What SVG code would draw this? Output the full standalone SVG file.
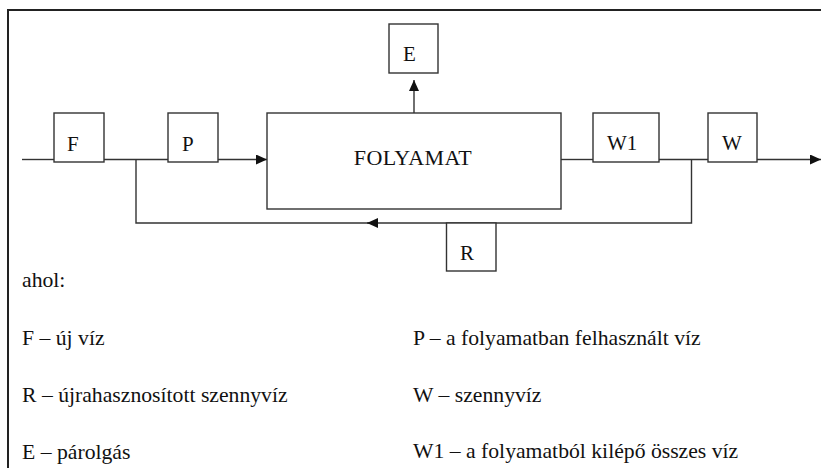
<svg xmlns="http://www.w3.org/2000/svg" width="821" height="468" viewBox="0 0 821 468">
<style>
.box{fill:#fff;stroke:#333;stroke-width:1.4}
.ln{fill:none;stroke:#333;stroke-width:1.4}
.t{font-family:"Liberation Serif","Times New Roman",serif;font-size:21px;fill:#111}
.lg{font-size:21.7px}
</style>
<defs>
<marker id="ah" markerWidth="11" markerHeight="10" refX="11" refY="5" orient="auto" markerUnits="userSpaceOnUse">
<path d="M0,0 L11,5 L0,10 Z" fill="#111"/>
</marker>
</defs>
<rect x="0" y="0" width="821" height="468" fill="#fff"/>
<rect x="8" y="10" width="830" height="480" fill="none" stroke="#222" stroke-width="2"/>
<g id="connectors">
<line class="ln" x1="22" y1="159.5" x2="54" y2="159.5"/>
<line class="ln" x1="104" y1="159.5" x2="168" y2="159.5"/>
<line class="ln" x1="218" y1="159.5" x2="267" y2="159.5" marker-end="url(#ah)"/>
<line class="ln" x1="414" y1="113" x2="414" y2="80" marker-end="url(#ah)"/>
<line class="ln" x1="561" y1="159.5" x2="593" y2="159.5"/>
<line class="ln" x1="659" y1="159.5" x2="708" y2="159.5"/>
<line class="ln" x1="757" y1="159.5" x2="821" y2="159.5" marker-end="url(#ah)"/>
<polyline class="ln" points="691.5,159.5 691.5,223 367,223"/>
<line class="ln" x1="378" y1="223" x2="367" y2="223" marker-end="url(#ah)"/>
<polyline class="ln" points="367,223 136,223 136,159.5"/>
</g>
<g id="node-F"><rect class="box" x="54" y="113" width="50" height="49"/><text class="t" x="67" y="151">F</text></g>
<g id="node-P"><rect class="box" x="168" y="113" width="50" height="49"/><text class="t" x="182" y="151">P</text></g>
<g id="node-FOLYAMAT"><rect class="box" x="267" y="113" width="294" height="96"/><text class="t" x="413" y="165" text-anchor="middle" style="font-size:22px;letter-spacing:0.4px">FOLYAMAT</text></g>
<g id="node-E"><rect class="box" x="389" y="24" width="49" height="49"/><text class="t" x="403" y="61">E</text></g>
<g id="node-W1"><rect class="box" x="593" y="113" width="66" height="49"/><text class="t" x="607" y="150">W1</text></g>
<g id="node-W"><rect class="box" x="708" y="113" width="49" height="49"/><text class="t" x="722" y="150">W</text></g>
<g id="node-R"><rect class="box" x="446.5" y="223" width="49.5" height="48"/><text class="t" x="460" y="260">R</text></g>
<g id="legend">
<text class="t lg" x="22" y="287">ahol:</text>
<text class="t lg" x="22" y="345">F – új víz</text>
<text class="t lg" x="22" y="402">R – újrahasznosított szennyvíz</text>
<text class="t lg" x="22" y="459">E – párolgás</text>
<text class="t lg" x="413" y="345">P – a folyamatban felhasznált víz</text>
<text class="t lg" x="413" y="402">W – szennyvíz</text>
<text class="t lg" x="413" y="458">W1 – a folyamatból kilépő összes víz</text>
</g>
</svg>
